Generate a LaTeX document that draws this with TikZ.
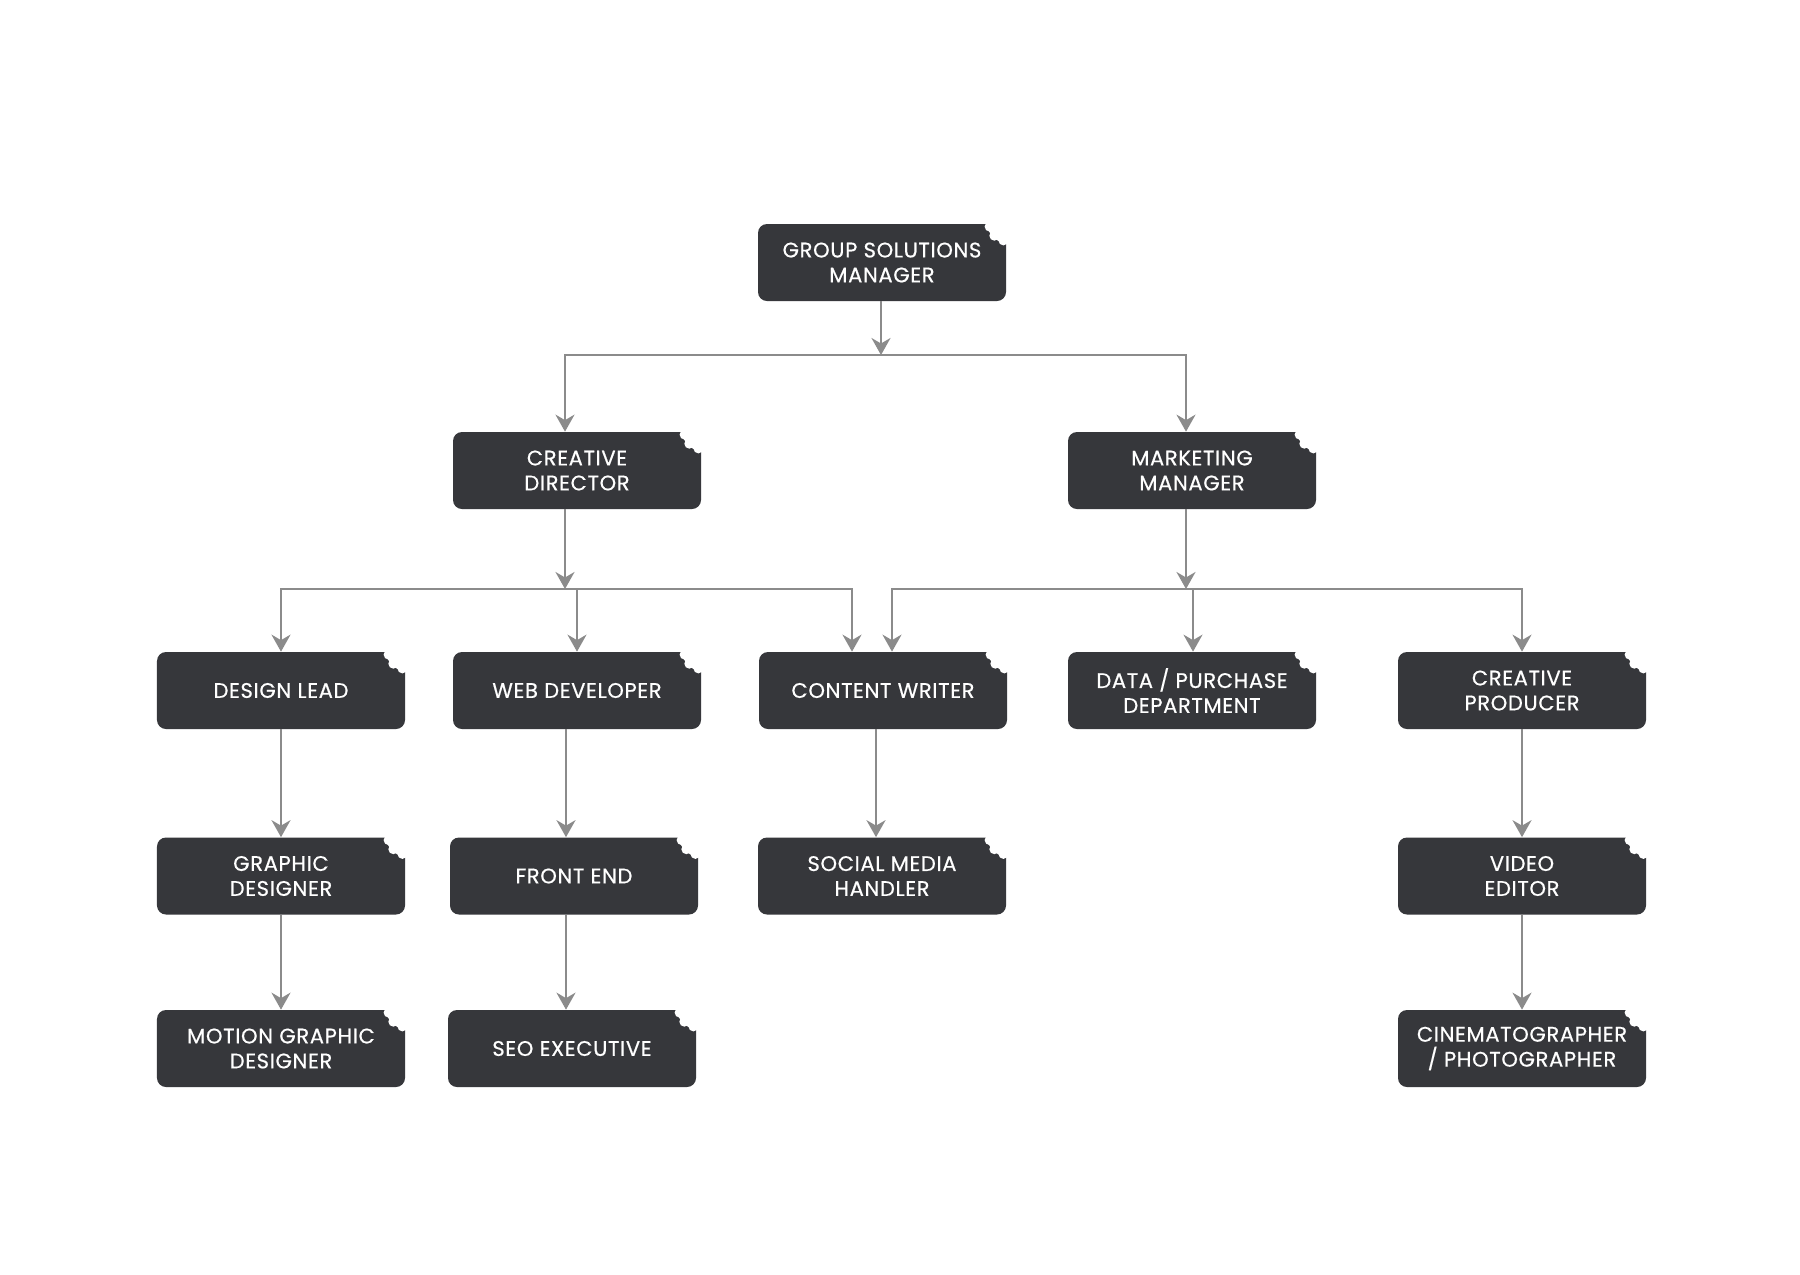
\documentclass[tikz,border=0pt]{standalone}
\usepackage{fontspec}
\setmainfont{Poppins}
\newfontfamily\boxfont{Poppins}[FakeBold=0.5, LetterSpace=3]
\usetikzlibrary{arrows.meta}

\definecolor{boxGray}{HTML}{36373B}
\definecolor{lineGray}{HTML}{8B8B8B}

\begin{document}
\begin{tikzpicture}
[x=0.2mm, y=-0.2mm,
 boxDecorate/.style={shape=rectangle, rounded corners=1.8mm, fill=boxGray, text=white,
   inner sep=0pt, minimum width=49.6mm, minimum height=15.4mm, align=center,
   font=\boxfont\fontsize{12}{14.2}\selectfont},
 tipDecorate/.tip={Stealth[length=3.4mm, width=3.8mm, inset=1.1mm]},
 lineDecorate/.style={draw=lineGray, line width=0.45mm},
 arrowDecorate/.style={lineDecorate, -tipDecorate}]
\fill[white] (0,0) rectangle (1800,1274);
\useasboundingbox (0,0) rectangle (1800,1274);
%% boxes
\foreach \nodename/\x/\y/\txt in {
  gsm/882/262.5/{GROUP SOLUTIONS\\MANAGER},
  cd/577/470.5/{CREATIVE\\DIRECTOR}, mm/1192/470.5/{MARKETING\\MANAGER},
  dl/281/690.5/{DESIGN LEAD}, wd/577/690.5/{WEB DEVELOPER},
  cw/883/690.5/{CONTENT WRITER}, dp/1192/690.5/{DATA / PURCHASE\\DEPARTMENT},
  cp/1522/690.5/{CREATIVE\\PRODUCER},
  gd/281/876/{GRAPHIC\\DESIGNER}, fe/574/876/{FRONT END},
  smh/882/876/{SOCIAL MEDIA\\HANDLER}, ve/1522/876/{VIDEO\\EDITOR},
  mgd/281/1048.5/{MOTION GRAPHIC\\DESIGNER}, seo/572/1048.5/{SEO EXECUTIVE},
  cin/1522/1048.5/{CINEMATOGRAPHER\\/ PHOTOGRAPHER}}
{
  \node (\nodename) at (\x,\y) [boxDecorate] {\txt};
}
%% bitten corners
\foreach \nodename in {gsm,cd,mm,dl,wd,cw,dp,cp,gd,fe,smh,ve,mgd,seo,cin}
{
  \fill[white] (\nodename.north east) circle (19);
  \foreach \ang in {100,135,170}
    \fill[white] ([shift={(\ang:17)}]\nodename.north east) circle (5);
}
%% columns and buses
\foreach \colname/\x in {colTop/881, colCD/565, colMM/1186, colDL/281, colWD/577,
  colCWa/852, colCWb/892, colDP/1193, colCP/1522, colFE/566, colSM/876}
{
  \coordinate (\colname) at (\x,0);
}
\coordinate (busTop) at (0,355);
\coordinate (busMid) at (0,589);
%% buses with drops at both ends
\foreach \lcol/\rcol/\bus/\lnode/\rnode in {colCD/colMM/busTop/cd/mm,
  colDL/colCWa/busMid/dl/cw, colCWb/colCP/busMid/cw/cp}
{
  \draw[lineDecorate, tipDecorate-tipDecorate] (\lcol |- \lnode.north) -- (\lcol |- \bus)
    -- (\rcol |- \bus) -- (\rcol |- \rnode.north);
}
%% single arrows
\foreach \col/\from/\to in {colTop/gsm.south/busTop, colCD/cd.south/busMid,
  colMM/mm.south/busMid, colWD/busMid/wd.north, colDP/busMid/dp.north,
  colDL/dl.south/gd.north, colFE/wd.south/fe.north, colSM/cw.south/smh.north,
  colCP/cp.south/ve.north, colDL/gd.south/mgd.north, colFE/fe.south/seo.north,
  colCP/ve.south/cin.north}
{
  \draw[arrowDecorate] (\col |- \from) -- (\col |- \to);
}
\end{tikzpicture}
\end{document}
